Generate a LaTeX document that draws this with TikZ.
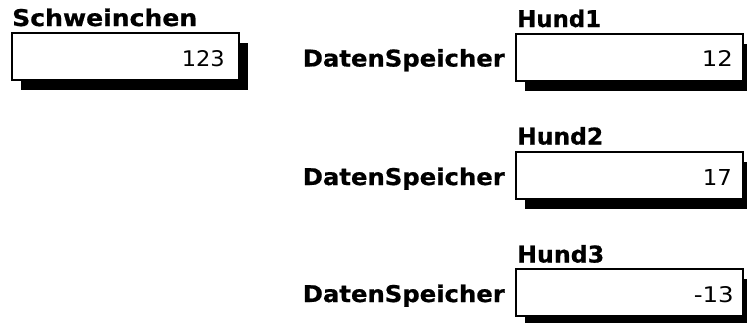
\documentclass[tikz,border=0pt]{standalone}
\usepackage{fontspec}
\usepackage{graphicx}
\setmainfont[BoldFeatures={FakeBold=0.7}]{DejaVu Sans}
\usetikzlibrary{shadows}
% scale a label to a given width and height
\newcommand\fitw[3][17.5pt]{\resizebox{#2}{#1}{#3}}
\begin{document}
\begin{tikzpicture}[x=1pt,y=-1pt,
  field/.style={draw, line width=1.8pt, fill=white, minimum width=227pt,
    minimum height=47pt, inner sep=0pt, outer sep=0pt, anchor=north west,
    drop shadow={shadow xshift=8.5pt, shadow yshift=-10pt, fill=black, opacity=1}},
  title/.style={font=\fontsize{20.5}{24}\selectfont\bfseries, anchor=base west, inner sep=0pt},
  member/.style={font=\fontsize{20.5}{24}\selectfont\bfseries, anchor=base east, inner sep=0pt},
  value/.style={font=\fontsize{20.5}{24}\selectfont, anchor=base east, inner sep=0pt}]
  \useasboundingbox (0,0) rectangle (747,322);

  % single variable
  \node[title] (tsch) at (12,26) {\fitw{185pt}{Schweinchen}};
  \node[field] (sch) at (12,33) {};
  \node[value] (vsch) at (225,66) {\fitw[16pt]{43pt}{123}};

  % three objects with one field each
  \node[title] (th1) at (517,27) {\fitw{84pt}{Hund1}};
  \node[field] (h1) at (516,34) {};
  \node[member] (m1) at (505,66.5) {\fitw{202pt}{DatenSpeicher}};
  \node[value] (v1) at (733,66.5) {\fitw[16pt]{31pt}{12}};

  \node[title] (th2) at (517,144.5) {\fitw{86pt}{Hund2}};
  \node[field] (h2) at (516,152) {};
  \node[member] (m2) at (505,185) {\fitw{202pt}{DatenSpeicher}};
  \node[value] (v2) at (732,185.5) {\fitw[16pt]{29pt}{17}};

  \node[title] (th3) at (517,262.5) {\fitw{87pt}{Hund3}};
  \node[field] (h3) at (516,269) {};
  \node[member] (m3) at (505,302) {\fitw{202pt}{DatenSpeicher}};
  \node[value] (v3) at (734,302.5) {\fitw[16pt]{40pt}{-13}};
\end{tikzpicture}
\end{document}
